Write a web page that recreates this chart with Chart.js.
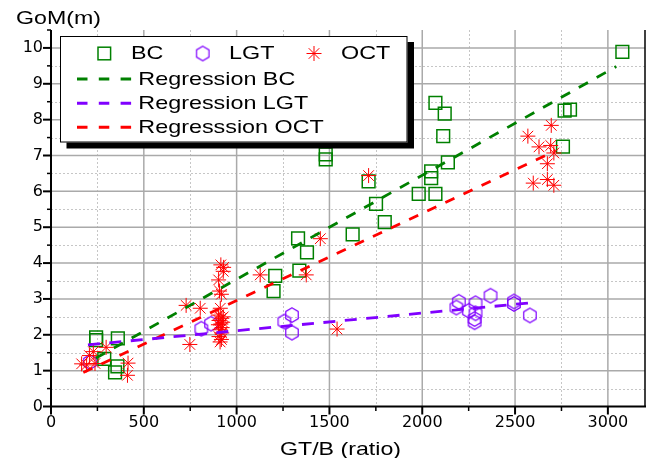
<!DOCTYPE html>
<html>
<head>
<meta charset="utf-8">
<script src="https://cdn.jsdelivr.net/npm/chart.js@4/dist/chart.umd.min.js"></script>
<style>
html,body{margin:0;padding:0;background:#fff;}
canvas{display:block;}
</style>
</head>
<body>
<canvas id="c" width="649" height="458"></canvas>
<script>
// ---------- data ----------
const seriesNames = ['BC', 'LGT', 'OCT', 'Regression BC', 'Regression LGT', 'Regresssion OCT'];
const xTickValues = [0, 500, 1000, 1500, 2000, 2500, 3000];
const xTickLabels = ['0', '500', '1000', '1500', '2000', '2500', '3000'];
const yTickValues = [0, 1, 2, 3, 4, 5, 6, 7, 8, 9, 10];
const yTickLabels = ['0', '1', '2', '3', '4', '5', '6', '7', '8', '9', '10'];
const xTitle = 'GT/B (ratio)';
const yTitle = 'GoM(m)';

const bcX = [243, 243, 360, 287, 358, 345, 1199, 1208, 1338, 1331, 1379, 1625, 1480, 1480, 1711, 1751, 1798, 1981, 2071, 2048, 2048, 2138, 2113, 2071, 2121, 2758, 2767, 2796, 3078];
const bcY = [1.93, 1.85, 1.90, 1.33, 1.12, 0.95, 3.22, 3.64, 3.79, 4.69, 4.30, 4.80, 7.03, 6.89, 6.28, 5.65, 5.14, 5.93, 5.93, 6.37, 6.56, 6.81, 7.54, 8.47, 8.17, 7.25, 8.25, 8.28, 9.89];

const lgtX = [210, 810, 862, 1257, 1298, 1298, 2184, 2197, 2251, 2287, 2287, 2282, 2282, 2368, 2494, 2494, 2580];
const lgtY = [1.24, 2.17, 2.31, 2.37, 2.55, 2.06, 2.76, 2.92, 2.67, 2.88, 2.60, 2.44, 2.35, 3.09, 2.93, 2.86, 2.54];

const octX = [165, 207, 228, 192, 237, 297, 415, 412,
              728, 804, 748,
              915, 930, 928, 903, 908, 918, 912, 902, 920, 905, 925, 915, 902, 922, 911, 920, 905, 918, 911, 928,
              1127, 1375, 1451, 1541, 1711,
              2695, 2569, 2629, 2692, 2709, 2674, 2598, 2674, 2709];
const octY = [1.19, 1.42, 1.53, 1.16, 1.20, 1.65, 1.21, 0.87,
              2.82, 2.74, 1.73,
              3.95, 3.88, 3.77, 3.53, 3.22, 3.13, 2.74, 2.55, 2.46, 2.40, 2.35, 2.30, 2.28, 2.20, 2.14, 2.05, 1.95, 1.87, 1.80, 2.50,
              3.67, 3.67, 4.68, 2.16, 6.44,
              7.84, 7.54, 7.24, 7.28, 7.07, 6.77, 6.23, 6.33, 6.17];

const regBCX = [242, 3045];
const regBCY = [1.35, 9.48];
const regLGTX = [199, 2581];
const regLGTY = [1.72, 2.89];
const regOCTX = [174, 2716];
const regOCTY = [0.95, 7.13];

// ---------- styling ----------
const GREEN = '#008000', PURPLE = '#8000ff', RED = '#ff0000';
const zip = (xs, ys) => xs.map((x, i) => ({x: x, y: ys[i]}));

function makeHex(R, color, lw) {
  const s = 20;
  const c = document.createElement('canvas');
  c.width = s; c.height = s;
  const g = c.getContext('2d');
  g.strokeStyle = color; g.lineWidth = lw;
  g.beginPath();
  for (let i = 0; i < 6; i++) {
    const a = -Math.PI / 2 + i * Math.PI / 3;
    const px = s / 2 + R * Math.cos(a), py = s / 2 + R * Math.sin(a);
    if (i) g.lineTo(px, py); else g.moveTo(px, py);
  }
  g.closePath(); g.stroke();
  return c;
}
const hexImg = makeHex(7.2, PURPLE, 1.2);

function stretchText(ctx, text, x, y, px, sx) {
  ctx.save();
  ctx.font = px + 'px "Liberation Sans", Arial, sans-serif';
  ctx.fillStyle = '#000';
  ctx.textAlign = 'left';
  ctx.textBaseline = 'alphabetic';
  ctx.translate(x, y);
  ctx.scale(sx, 1);
  ctx.fillText(text, 0, 0);
  ctx.restore();
}
function fitScale(ctx, text, px, target) {
  ctx.save();
  ctx.font = px + 'px "Liberation Sans", Arial, sans-serif';
  const w = ctx.measureText(text).width;
  ctx.restore();
  return target / w;
}

const framePlugin = {
  id: 'frame',
  beforeDatasetsDraw(chart) {
    const ctx = chart.ctx, xs = chart.scales.x, ys = chart.scales.y, ca = chart.chartArea;
    ctx.save();
    // minor grid (dotted)
    ctx.setLineDash([2, 2]);
    ctx.strokeStyle = '#c6c6c6';
    ctx.lineWidth = 1;
    for (let i = 0; i < xTickValues.length; i++) {
      const v = xTickValues[i] + 250;
      if (v >= xs.max) continue;
      const p = Math.round(xs.getPixelForValue(v)) + 0.5;
      ctx.beginPath(); ctx.moveTo(p, ca.top); ctx.lineTo(p, ca.bottom); ctx.stroke();
    }
    for (let i = 0; i < yTickValues.length; i++) {
      const v = yTickValues[i] + 0.5;
      if (v >= ys.max) continue;
      const p = Math.round(ys.getPixelForValue(v)) + 0.5;
      ctx.beginPath(); ctx.moveTo(ca.left, p); ctx.lineTo(ca.right, p); ctx.stroke();
    }
    // major grid (solid)
    ctx.setLineDash([]);
    ctx.strokeStyle = '#aaaaaa';
    ctx.lineWidth = 1.5;
    xTickValues.forEach(v => {
      if (v === 0) return;
      const p = xs.getPixelForValue(v);
      ctx.beginPath(); ctx.moveTo(p, ca.top); ctx.lineTo(p, ca.bottom); ctx.stroke();
    });
    yTickValues.forEach(v => {
      if (v === 0) return;
      const p = ys.getPixelForValue(v);
      ctx.beginPath(); ctx.moveTo(ca.left, p); ctx.lineTo(ca.right, p); ctx.stroke();
    });
    ctx.restore();
  },
  afterDatasetsDraw(chart) {
    const ctx = chart.ctx, xs = chart.scales.x, ys = chart.scales.y, ca = chart.chartArea;
    ctx.save();
    ctx.strokeStyle = '#000';
    ctx.setLineDash([]);
    // axes
    ctx.lineWidth = 2;
    ctx.beginPath(); ctx.moveTo(ca.left, ca.top); ctx.lineTo(ca.left, ca.bottom + 1); ctx.stroke();
    ctx.beginPath(); ctx.moveTo(ca.left - 1, ca.bottom); ctx.lineTo(ca.right + 1, ca.bottom); ctx.stroke();
    ctx.lineWidth = 1.5;
    ctx.beginPath(); ctx.moveTo(ca.right, ca.top); ctx.lineTo(ca.right, ca.bottom); ctx.stroke();
    // ticks
    xTickValues.forEach(v => {
      const p = xs.getPixelForValue(v);
      ctx.lineWidth = 2;
      ctx.beginPath(); ctx.moveTo(p, ca.bottom); ctx.lineTo(p, ca.bottom + 8); ctx.stroke();
      const m = v + 250;
      if (m < xs.max) {
        const q = xs.getPixelForValue(m);
        ctx.lineWidth = 1.5;
        ctx.beginPath(); ctx.moveTo(q, ca.bottom); ctx.lineTo(q, ca.bottom + 4.5); ctx.stroke();
      }
    });
    yTickValues.forEach(v => {
      const p = ys.getPixelForValue(v);
      ctx.lineWidth = 2;
      ctx.beginPath(); ctx.moveTo(ca.left, p); ctx.lineTo(ca.left - 8, p); ctx.stroke();
      const m = v + 0.5;
      if (m <= ys.max) {
        const q = ys.getPixelForValue(m);
        ctx.lineWidth = 1.5;
        ctx.beginPath(); ctx.moveTo(ca.left, q); ctx.lineTo(ca.left - 4, q); ctx.stroke();
      }
    });
    ctx.restore();

    // axis titles
    stretchText(ctx, yTitle, 16, 24, 18, fitScale(ctx, yTitle, 18, 85));
    stretchText(ctx, xTitle, 280, 455, 19, fitScale(ctx, xTitle, 19, 121));

    // legend box with shadow
    const bx = 60, by = 36, bw = 347.5, bh = 106.5;
    ctx.save();
    ctx.fillStyle = '#000';
    ctx.fillRect(bx + 6.5, by + 6, bw, bh);
    ctx.fillStyle = '#fff';
    ctx.fillRect(bx, by, bw, bh);
    ctx.strokeStyle = '#000';
    ctx.lineWidth = 1;
    ctx.strokeRect(bx + 0.5, by + 0.5, bw - 1, bh - 1);
    ctx.restore();

    const ds = chart.data.datasets;
    const lx = fitScale(ctx, ds[3].label, 18.5, 157);
    // row 1: markers
    const r1 = 53.5;
    ctx.save();
    ctx.strokeStyle = GREEN; ctx.lineWidth = 1.5;
    ctx.strokeRect(104.3 - 6.3, r1 - 6.3, 12.6, 12.6);
    ctx.drawImage(hexImg, 202.7 - hexImg.width / 2, r1 - hexImg.height / 2);
    ctx.strokeStyle = RED; ctx.lineWidth = 1;
    const sr = 7.5, d = sr * Math.SQRT1_2;
    ctx.beginPath();
    ctx.moveTo(314 - sr, r1); ctx.lineTo(314 + sr, r1);
    ctx.moveTo(314, r1 - sr); ctx.lineTo(314, r1 + sr);
    ctx.moveTo(314 - d, r1 - d); ctx.lineTo(314 + d, r1 + d);
    ctx.moveTo(314 - d, r1 + d); ctx.lineTo(314 + d, r1 - d);
    ctx.stroke();
    ctx.restore();
    stretchText(ctx, ds[0].label, 131, 59.3, 18.5, lx);
    stretchText(ctx, ds[1].label, 229, 59.3, 18.5, lx);
    stretchText(ctx, ds[2].label, 341, 59.3, 18.5, lx);
    // rows 2-4: dashed lines
    const rows = [[3, 79, 85], [4, 103.3, 109.3], [5, 127.3, 133.3]];
    rows.forEach(([k, ly, ty]) => {
      ctx.save();
      ctx.strokeStyle = ds[k].borderColor;
      ctx.lineWidth = 3;
      ctx.setLineDash([10.5, 11.3]);
      ctx.beginPath(); ctx.moveTo(77, ly); ctx.lineTo(132, ly); ctx.stroke();
      ctx.restore();
      stretchText(ctx, ds[k].label, 138.3, ty, 18.5, lx);
    });
  }
};

new Chart(document.getElementById('c'), {
  type: 'scatter',
  data: {
    datasets: [
      {label: seriesNames[0], data: zip(bcX, bcY), order: 3, pointStyle: 'rect', pointRadius: 9,
       borderColor: GREEN, backgroundColor: 'rgba(0,0,0,0)', borderWidth: 1.5, showLine: false},
      {label: seriesNames[1], data: zip(lgtX, lgtY), order: 2, pointStyle: hexImg, pointRadius: 7,
       borderColor: PURPLE, backgroundColor: 'rgba(0,0,0,0)', borderWidth: 1.2, showLine: false},
      {label: seriesNames[2], data: zip(octX, octY), order: 1, pointStyle: 'star', pointRadius: 7.5,
       borderColor: RED, backgroundColor: 'rgba(0,0,0,0)', borderWidth: 1, showLine: false},
      {label: seriesNames[3], data: zip(regBCX, regBCY), order: 0, showLine: true, pointRadius: 0,
       borderColor: GREEN, borderWidth: 2.8, borderDash: [10.5, 10], fill: false},
      {label: seriesNames[4], data: zip(regLGTX, regLGTY), order: 0, showLine: true, pointRadius: 0,
       borderColor: PURPLE, borderWidth: 2.8, borderDash: [12, 9.5], fill: false},
      {label: seriesNames[5], data: zip(regOCTX, regOCTY), order: 0, showLine: true, pointRadius: 0,
       borderColor: RED, borderWidth: 2.8, borderDash: [10, 10], fill: false}
    ]
  },
  options: {
    responsive: false,
    animation: false,
    events: [],
    layout: {autoPadding: false, padding: {top: 30, right: 4, left: 0, bottom: 0}},
    plugins: {legend: {display: false}, tooltip: {enabled: false}},
    scales: {
      x: {
        type: 'linear', min: 0, max: 3200,
        afterBuildTicks: s => { s.ticks = xTickValues.map(v => ({value: v})); },
        afterFit: s => { s.height = 51.5; },
        ticks: {
          autoSkip: false, maxRotation: 0, padding: 7, color: '#000',
          font: {family: '"DejaVu Sans", sans-serif', size: 16},
          callback: (v, i) => xTickLabels[i]
        },
        grid: {display: false, drawTicks: false},
        border: {display: false}
      },
      y: {
        type: 'linear', min: 0, max: 10.5,
        afterBuildTicks: s => { s.ticks = yTickValues.map(v => ({value: v})); },
        afterFit: s => { s.width = 51; },
        ticks: {
          autoSkip: false, padding: 8, color: '#000',
          font: {family: '"DejaVu Sans", sans-serif', size: 16},
          callback: (v, i) => yTickLabels[i]
        },
        grid: {display: false, drawTicks: false},
        border: {display: false}
      }
    }
  },
  plugins: [framePlugin]
});
</script>
</body>
</html>
